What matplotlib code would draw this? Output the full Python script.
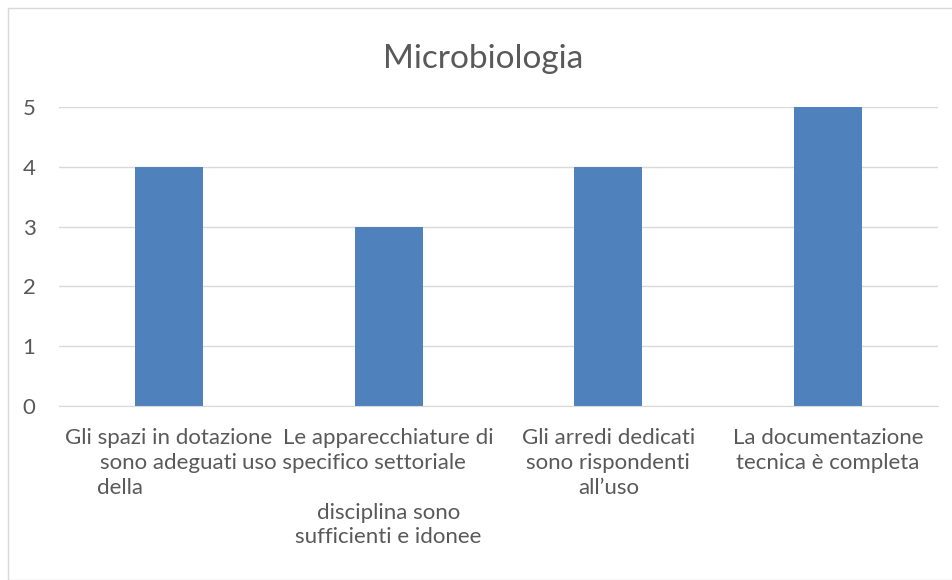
#!/usr/bin/env python3
"""
Bar chart: Microbiologia
"""

import matplotlib
matplotlib.use('Agg')
import matplotlib.pyplot as plt
from matplotlib.patches import Rectangle

title = 'Microbiologia'
categories = [
    'Gli spazi in dotazione\nsono adeguati\ndella' + ' ' * 17,
    'Le apparecchiature di\nuso specifico settoriale' + ' ' * 12
    + '\n\ndisciplina sono\nsufficienti e idonee',
    'Gli arredi dedicati\nsono rispondenti\nall\u2019uso',
    'La documentazione\ntecnica è completa',
]
values = [4, 3, 4, 5]
y_ticks = [0, 1, 2, 3, 4, 5]

text_color = '#595959'
grid_color = '#D9D9D9'
bar_color = '#4F81BD'

plt.rcParams['font.family'] = ['Lato', 'DejaVu Sans']

fig = plt.figure(figsize=(9.53, 5.8), dpi=100)
ax = fig.add_axes([0.062, 0.30, 0.922, 0.5155])

x = list(range(len(values)))
ax.bar(x, values, width=0.31, color=bar_color, zorder=3)

ax.set_xlim(-0.5, len(values) - 0.5)
ax.set_ylim(0, 5)
ax.set_yticks(y_ticks)
ax.set_yticklabels([str(v) for v in y_ticks])
ax.set_xticks(x)
ax.set_xticklabels(categories, fontsize=16, color=text_color,
                   linespacing=1.3, ha='center', multialignment='center')
ax.tick_params(axis='x', length=0, pad=16)
ax.tick_params(axis='y', length=0, pad=17, labelsize=16, labelcolor=text_color)

ax.grid(axis='y', color=grid_color, linewidth=1, zorder=0)
for side in ['top', 'right', 'left']:
    ax.spines[side].set_visible(False)
ax.spines['bottom'].set_color(grid_color)
ax.spines['bottom'].set_zorder(4)

fig.text(0.507, 0.898, title, fontsize=24, color=text_color,
         ha='center', va='center')

# light chart border
fig.patches.append(Rectangle((8 / 953, 0.0), 1.0, 1 - 8 / 580,
                             transform=fig.transFigure, fill=False,
                             edgecolor=grid_color, linewidth=1))

fig.savefig('out.png', dpi=100)
